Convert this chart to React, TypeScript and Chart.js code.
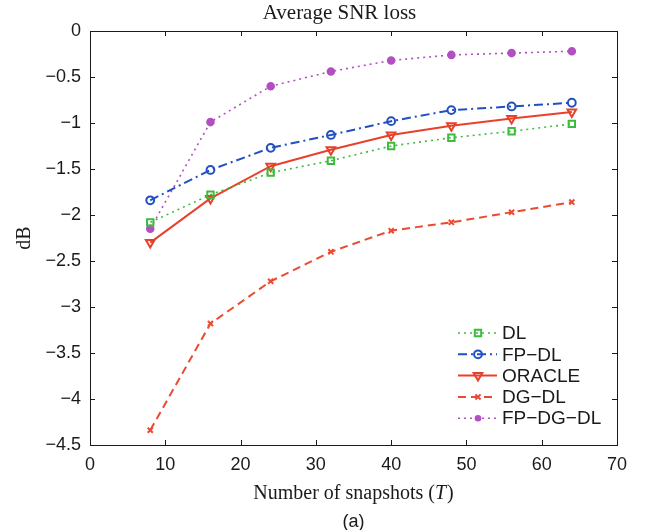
import React, { useEffect, useRef } from 'react';
import { Chart, registerables } from 'chart.js';

Chart.register(...registerables);

// ---- data ----
const snapshots = [8, 16, 24, 32, 40, 48, 56, 64];
const dlValues = [-2.08, -1.78, -1.54, -1.41, -1.25, -1.16, -1.09, -1.01];
const fpDlValues = [-1.84, -1.51, -1.27, -1.13, -0.98, -0.86, -0.82, -0.78];
const oracleValues = [-2.3, -1.82, -1.47, -1.29, -1.13, -1.03, -0.95, -0.88];
const dgDlValues = [-4.34, -3.18, -2.72, -2.4, -2.17, -2.08, -1.97, -1.86];
const fpDgDlValues = [-2.15, -0.99, -0.6, -0.44, -0.32, -0.26, -0.24, -0.22];
const seriesNames = ['DL', 'FP\u2212DL', 'ORACLE', 'DG\u2212DL', 'FP\u2212DG\u2212DL'];
const titleText = 'Average SNR loss';
const xLabelText = 'Number of snapshots (';
const xLabelVar = 'T';
const yLabelText = 'dB';
const captionText = '(a)';

const GREEN = '#3dbb3d';
const BLUE = '#2150c2';
const RED = '#e8412b';
const RED2 = '#ea4a30';
const MAGENTA = '#b24fc2';

type Style = {
  color: string;
  dash: number[];
  width: number;
  point: string;
  radius: number;
  rotation: number;
  fill: boolean;
};

const styles: Style[] = [
  { color: GREEN, dash: [2, 4], width: 1.6, point: 'rect', radius: 4.5, rotation: 0, fill: false },
  { color: BLUE, dash: [9, 4, 2, 4], width: 2, point: 'circle', radius: 3.9, rotation: 0, fill: false },
  { color: RED, dash: [], width: 2, point: 'triangle', radius: 5, rotation: 180, fill: false },
  { color: RED2, dash: [8, 5], width: 2, point: 'crossRot', radius: 3.6, rotation: 0, fill: false },
  { color: MAGENTA, dash: [2, 4], width: 1.6, point: 'circle', radius: 3.3, rotation: 0, fill: true },
];

const seriesValues = [dlValues, fpDlValues, oracleValues, dgDlValues, fpDgDlValues];

function fmtY(v: number): string {
  const r = Math.round(v * 10) / 10;
  if (r === 0) return '0';
  return (r < 0 ? '\u2212' : '') + String(Math.abs(r));
}

function drawMarker(ctx: CanvasRenderingContext2D, s: Style, x: number, y: number) {
  ctx.save();
  ctx.setLineDash([]);
  ctx.strokeStyle = s.color;
  ctx.fillStyle = s.color;
  ctx.lineWidth = 2;
  ctx.beginPath();
  const r = s.radius;
  if (s.point === 'rect') {
    const h = Math.SQRT1_2 * r;
    ctx.rect(x - h, y - h, 2 * h, 2 * h);
    ctx.stroke();
  } else if (s.point === 'circle') {
    ctx.arc(x, y, r, 0, Math.PI * 2);
    if (s.fill) ctx.fill();
    else ctx.stroke();
  } else if (s.point === 'triangle') {
    const a0 = Math.PI; // pointing down
    for (let i = 0; i < 3; i++) {
      const a = a0 + (i * 2 * Math.PI) / 3;
      const px = x + Math.sin(a) * r;
      const py = y - Math.cos(a) * r;
      if (i === 0) ctx.moveTo(px, py);
      else ctx.lineTo(px, py);
    }
    ctx.closePath();
    ctx.stroke();
  } else if (s.point === 'crossRot') {
    const h = Math.SQRT1_2 * r;
    ctx.moveTo(x - h, y - h);
    ctx.lineTo(x + h, y + h);
    ctx.moveTo(x - h, y + h);
    ctx.lineTo(x + h, y - h);
    ctx.stroke();
  }
  ctx.restore();
}

const decorPlugin = {
  id: 'decor',
  afterDraw(chart: any) {
    const ctx: CanvasRenderingContext2D = chart.ctx;
    const { left, right, top, bottom } = chart.chartArea;
    const xs = chart.scales.x;
    const ys = chart.scales.y;
    ctx.save();
    // box
    ctx.strokeStyle = '#1a1a1a';
    ctx.lineWidth = 1;
    ctx.setLineDash([]);
    ctx.strokeRect(Math.round(left) + 0.5, Math.round(top) + 0.5, Math.round(right - left), Math.round(bottom - top));
    // inward ticks
    const tl = 5;
    ctx.beginPath();
    xs.ticks.forEach((t: any) => {
      const px = Math.round(xs.getPixelForValue(t.value)) + 0.5;
      ctx.moveTo(px, bottom);
      ctx.lineTo(px, bottom - tl);
      ctx.moveTo(px, top);
      ctx.lineTo(px, top + tl);
    });
    ys.ticks.forEach((t: any) => {
      const py = Math.round(ys.getPixelForValue(t.value)) + 0.5;
      ctx.moveTo(left, py);
      ctx.lineTo(left + tl, py);
      ctx.moveTo(right, py);
      ctx.lineTo(right - tl, py);
    });
    ctx.stroke();

    const cx = (left + right) / 2;
    ctx.fillStyle = '#1a1a1a';
    // title
    ctx.font = "21px 'Liberation Serif'";
    ctx.textAlign = 'center';
    ctx.textBaseline = 'middle';
    ctx.fillText(titleText, cx - 14, 13);
    // x label
    const normalFont = "20px 'Liberation Serif'";
    const italicFont = "italic 20px 'Liberation Serif'";
    ctx.font = normalFont;
    const w1 = ctx.measureText(xLabelText).width;
    const w3 = ctx.measureText(')').width;
    ctx.font = italicFont;
    const w2 = ctx.measureText(xLabelVar).width;
    const total = w1 + w2 + w3 + 1;
    let sx = cx - total / 2;
    ctx.textAlign = 'left';
    ctx.font = normalFont;
    ctx.fillText(xLabelText, sx, 494);
    sx += w1;
    ctx.font = italicFont;
    ctx.fillText(xLabelVar, sx, 494);
    sx += w2 + 1;
    ctx.font = normalFont;
    ctx.fillText(')', sx, 494);
    // caption
    ctx.textAlign = 'center';
    ctx.font = "18px 'Liberation Sans'";
    ctx.fillText(captionText, cx, 522);
    // y label
    ctx.save();
    ctx.translate(25, (top + bottom) / 2);
    ctx.rotate(-Math.PI / 2);
    ctx.font = "20px 'Liberation Serif'";
    ctx.textAlign = 'center';
    ctx.textBaseline = 'middle';
    ctx.fillText(yLabelText, 0, 0);
    ctx.restore();

    // legend
    const lx0 = 458;
    const lx1 = 497;
    const mx = 478;
    const tx = 502;
    const ly0 = 333;
    const dy = 21.3;
    ctx.font = "19px 'Liberation Sans'";
    ctx.textAlign = 'left';
    ctx.textBaseline = 'middle';
    styles.forEach((s, i) => {
      const y = ly0 + i * dy;
      ctx.save();
      ctx.strokeStyle = s.color;
      ctx.lineWidth = s.width;
      ctx.setLineDash(s.dash);
      ctx.beginPath();
      ctx.moveTo(lx0, y);
      ctx.lineTo(lx1, y);
      ctx.stroke();
      ctx.restore();
      drawMarker(ctx, s, mx, y);
      ctx.fillStyle = '#1a1a1a';
      ctx.fillText(seriesNames[i], tx, y + 1);
    });
    ctx.restore();
  },
};

export default function App() {
  const canvasRef = useRef<HTMLCanvasElement | null>(null);

  useEffect(() => {
    document.body.style.margin = '0';
    const canvas = canvasRef.current;
    if (!canvas) return;
    const datasets = styles.map((s, i) => ({
      label: seriesNames[i],
      data: snapshots.map((x, j) => ({ x, y: seriesValues[i][j] })),
      borderColor: s.color,
      backgroundColor: s.fill ? s.color : 'rgba(0,0,0,0)',
      borderWidth: s.width,
      borderDash: s.dash,
      pointStyle: s.point as any,
      pointRadius: s.radius,
      pointRotation: s.rotation,
      pointBorderColor: s.color,
      pointBackgroundColor: s.fill ? s.color : 'rgba(0,0,0,0)',
      pointBorderWidth: 2,
      tension: 0,
      fill: false,
    }));
    const chart = new Chart(canvas, {
      type: 'line',
      data: { datasets: datasets as any },
      options: {
        responsive: false,
        animation: false,
        layout: { padding: { left: 0, right: 33, top: 31, bottom: 0 } },
        plugins: {
          legend: { display: false },
          title: { display: false },
          tooltip: { enabled: false },
        },
        scales: {
          x: {
            type: 'linear',
            min: 0,
            max: 70,
            grid: { display: false, drawTicks: false },
            border: { display: false },
            ticks: {
              stepSize: 10,
              padding: 9,
              color: '#1a1a1a',
              font: { family: 'Liberation Sans', size: 18 },
              maxRotation: 0,
            },
            afterFit: (scale: any) => {
              scale.height = 85;
            },
          },
          y: {
            type: 'linear',
            min: -4.5,
            max: 0,
            grid: { display: false, drawTicks: false },
            border: { display: false },
            ticks: {
              stepSize: 0.5,
              padding: 9,
              color: '#1a1a1a',
              font: { family: 'Liberation Sans', size: 18 },
              callback: (v: any) => fmtY(Number(v)),
            },
            afterFit: (scale: any) => {
              scale.width = 90;
            },
          },
        },
      },
      plugins: [decorPlugin],
    });
    return () => chart.destroy();
  }, []);

  return (
    <div style={{ width: 650, height: 530, background: '#fff' }}>
      <canvas ref={canvasRef} width={650} height={530} style={{ display: 'block' }} />
    </div>
  );
}
